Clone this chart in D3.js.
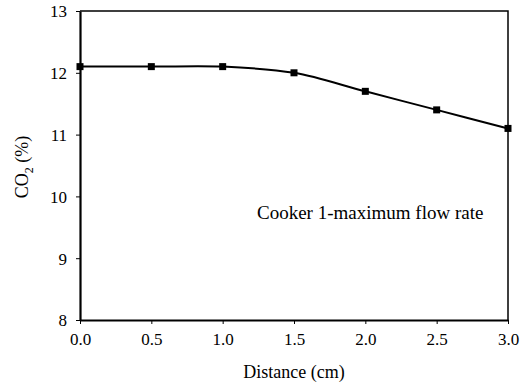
<!DOCTYPE html>
<html>
<head>
<meta charset="utf-8">
<script src="https://cdn.jsdelivr.net/npm/d3@7"></script>
<style>html,body{margin:0;padding:0;background:#fff;}</style>
</head>
<body>
<svg id="chart" width="528" height="385"></svg>
<script>
const distances = [0.0, 0.5, 1.0, 1.5, 2.0, 2.5, 3.0];
const co2Values = [12.1, 12.1, 12.1, 12.0, 11.7, 11.4, 11.1];
const xTicks = [0.0, 0.5, 1.0, 1.5, 2.0, 2.5, 3.0];
const yTicks = [8, 9, 10, 11, 12, 13];
const annotation = "Cooker 1-maximum flow rate";

const FF = '"Liberation Serif", "Times New Roman", serif';
const svg = d3.select("#chart");
const L = 80, R = 508, T = 11, B = 320;
const x = d3.scaleLinear().domain([0, 3]).range([L, R]);
const y = d3.scaleLinear().domain([8, 13]).range([B, T]);
const tickFs = 17;

svg.append("path")
  .attr("d", `M${L},${T}H${R}V${B}`)
  .attr("fill", "none").attr("stroke", "#000").attr("stroke-width", 1.5);

const xAxis = svg.append("g").attr("transform", `translate(0,${B})`)
  .call(d3.axisBottom(x).tickValues(xTicks).tickFormat(d3.format(".1f")).tickSizeInner(4).tickSizeOuter(0).tickPadding(9));
const yAxis = svg.append("g").attr("transform", `translate(${L},0)`)
  .call(d3.axisLeft(y).tickValues(yTicks).tickFormat(d3.format("d")).tickSizeInner(4).tickSizeOuter(0).tickPadding(9));
[xAxis, yAxis].forEach(a => {
  a.attr("font-family", "Liberation Serif").attr("font-size", tickFs);
  a.select(".domain").attr("stroke", "#000").attr("stroke-width", 2.2);
  a.selectAll(".tick line").attr("stroke", "#000").attr("stroke-width", 1);
  a.selectAll(".tick text").attr("font-family", "Liberation Serif").attr("font-size", tickFs)
    .style("font-size", tickFs + "px").style("font-family", FF).attr("fill", "#000");
});
yAxis.selectAll(".tick text").attr("dy", "0.35em");

const pts = distances.map((d, i) => [d, co2Values[i]]);
const line = d3.line().x(d => x(d[0])).y(d => y(d[1])).curve(d3.curveCatmullRom.alpha(0.5));
svg.append("path").datum(pts).attr("d", line)
  .attr("fill", "none").attr("stroke", "#000").attr("stroke-width", 2);

svg.selectAll("rect.m").data(pts).enter().append("rect").attr("class", "m")
  .attr("x", d => x(d[0]) - 3.5).attr("y", d => y(d[1]) - 3.5)
  .attr("width", 7).attr("height", 7).attr("fill", "#000");

svg.append("text").attr("x", 257).attr("y", 219)
  .style("font-family", FF).style("font-size", "19px").text(annotation);

svg.append("text").attr("x", 294).attr("y", 378).attr("text-anchor", "middle")
  .style("font-family", FF).style("font-size", "18px").text("Distance (cm)");

const yl = svg.append("text").attr("transform", `translate(28,167) rotate(-90)`)
  .attr("text-anchor", "middle").style("font-family", FF).style("font-size", "18px");
yl.append("tspan").text("CO");
yl.append("tspan").style("font-size", "12px").attr("dy", 5).text("2");
yl.append("tspan").attr("dy", -5).text(" (%)");
</script>
</body>
</html>
